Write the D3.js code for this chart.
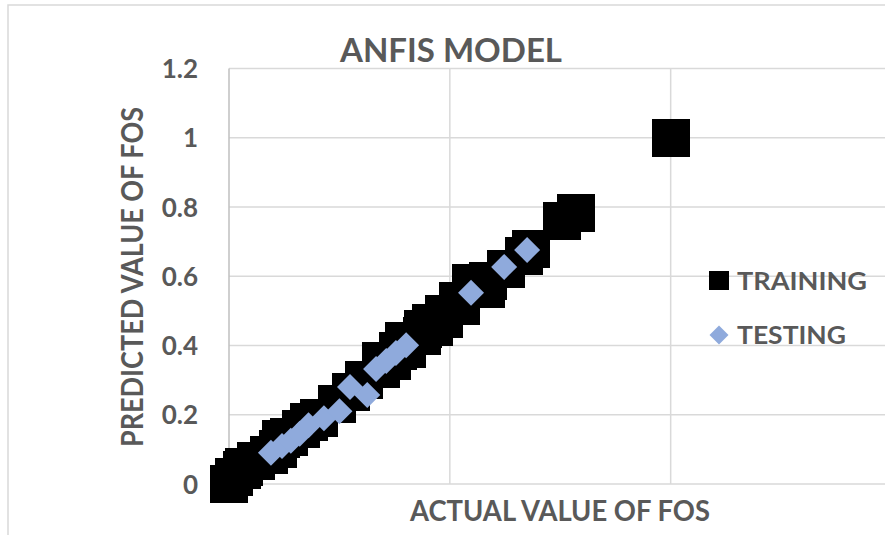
<!DOCTYPE html>
<html>
<head>
<meta charset="utf-8">
<script src="https://cdn.jsdelivr.net/npm/d3@7"></script>
<style>
  html, body { margin: 0; padding: 0; background: #fff; }
  svg { display: block; }
  text { font-family: Lato, "Open Sans", sans-serif; font-weight: 700; fill: #595959; }
</style>
</head>
<body>
<svg id="chart" width="885" height="535"></svg>
<script>
// Training set: actual FOS vs ANFIS-predicted FOS
const trainActual = [0.000, 0.012, 0.030, 0.035, 0.060, 0.090, 0.110, 0.118, 0.136, 0.163, 0.181, 0.204,
  0.245, 0.276, 0.306, 0.344, 0.344, 0.369, 0.383, 0.403, 0.396, 0.437, 0.440, 0.464, 0.458, 0.487,
  0.487, 0.525, 0.519, 0.548, 0.582, 0.587, 0.627, 0.668, 0.684, 0.755, 0.786, 1.000];
const trainPredicted = [0.000, 0.020, 0.040, 0.050, 0.065, 0.085, 0.100, 0.130, 0.136, 0.159, 0.179, 0.191,
  0.231, 0.266, 0.300, 0.332, 0.355, 0.355, 0.384, 0.390, 0.413, 0.427, 0.448, 0.453, 0.465, 0.477,
  0.491, 0.514, 0.529, 0.580, 0.563, 0.586, 0.621, 0.658, 0.679, 0.760, 0.784, 1.000];

// Testing set
const testActual = [0.095, 0.120, 0.140, 0.160, 0.180, 0.215, 0.250, 0.274, 0.313, 0.333, 0.356, 0.378,
  0.401, 0.548, 0.623, 0.675];
const testPredicted = [0.090, 0.110, 0.125, 0.145, 0.170, 0.190, 0.210, 0.280, 0.257, 0.332, 0.355, 0.378,
  0.401, 0.552, 0.627, 0.676];

const yTicks = [0, 0.2, 0.4, 0.6, 0.8, 1, 1.2];
const yTickLabels = ["0", "0.2", "0.4", "0.6", "0.8", "1", "1.2"];
const xGrid = [0, 0.5, 1, 1.5];

const titleText = "ANFIS MODEL";
const xTitle = "ACTUAL VALUE OF FOS";
const yTitle = "PREDICTED VALUE OF FOS";
const seriesNames = ["TRAINING", "TESTING"];

const svg = d3.select("#chart");

// chart frame
svg.append("rect")
  .attr("x", 8).attr("y", 5).attr("width", 900).attr("height", 560)
  .attr("fill", "none").attr("stroke", "#d9d9d9").attr("stroke-width", 1.5);

const x = d3.scaleLinear().domain([0, 1.5]).range([229, 891.5]);
const y = d3.scaleLinear().domain([0, 1.2]).range([484, 68.5]);

// horizontal gridlines
svg.append("g").selectAll("line").data(yTicks).join("line")
  .attr("x1", x(0)).attr("x2", 885)
  .attr("y1", d => y(d)).attr("y2", d => y(d))
  .attr("stroke", "#d9d9d9").attr("stroke-width", 1.5);

// vertical gridlines
svg.append("g").selectAll("line").data(xGrid.slice(1)).join("line")
  .attr("x1", d => x(d)).attr("x2", d => x(d))
  .attr("y1", y(1.2)).attr("y2", y(0))
  .attr("stroke", "#d9d9d9").attr("stroke-width", 1.5);

// value axis line
svg.append("line")
  .attr("x1", x(0)).attr("x2", x(0)).attr("y1", y(1.2)).attr("y2", y(0))
  .attr("stroke", "#bfbfbf").attr("stroke-width", 1.5);

// y tick labels
svg.append("g").selectAll("text").data(yTicks).join("text")
  .attr("x", 198).attr("y", d => y(d) + 9.5)
  .attr("text-anchor", "end").attr("font-size", 26)
  .text((d, i) => yTickLabels[i]);

// training squares
const sq = 38;
svg.append("g").attr("shape-rendering", "crispEdges")
  .selectAll("rect").data(trainActual).join("rect")
  .attr("x", (d, i) => x(d) - sq / 2)
  .attr("y", (d, i) => y(trainPredicted[i]) - sq / 2)
  .attr("width", sq).attr("height", sq)
  .attr("fill", "#000");

// testing diamonds
const dr = 13;
const diamond = (cx, cy, r) => `M${cx},${cy - r}L${cx + r},${cy}L${cx},${cy + r}L${cx - r},${cy}Z`;
svg.append("g").selectAll("path").data(testActual).join("path")
  .attr("d", (d, i) => diamond(x(d), y(testPredicted[i]), dr))
  .attr("fill", "#8faadc");

// title
svg.append("text")
  .attr("x", 451).attr("y", 61.5).attr("text-anchor", "middle")
  .attr("font-size", 32).attr("textLength", 222).attr("lengthAdjust", "spacingAndGlyphs")
  .text(titleText);

// axis titles
svg.append("text")
  .attr("x", 560).attr("y", 521).attr("text-anchor", "middle")
  .attr("font-size", 29).attr("textLength", 300).attr("lengthAdjust", "spacingAndGlyphs")
  .text(xTitle);

svg.append("text")
  .attr("transform", "translate(143,277) rotate(-90)")
  .attr("text-anchor", "middle")
  .attr("font-size", 30).attr("textLength", 340).attr("lengthAdjust", "spacingAndGlyphs")
  .text(yTitle);

// legend
const legend = svg.append("g");
legend.append("rect").attr("x", 709).attr("y", 271).attr("width", 20).attr("height", 19)
  .attr("fill", "#000").attr("shape-rendering", "crispEdges");
legend.append("text").attr("x", 737).attr("y", 290).attr("font-size", 25)
  .attr("textLength", 130).attr("lengthAdjust", "spacingAndGlyphs").text(seriesNames[0]);
legend.append("path").attr("d", diamond(719, 335, 9.5)).attr("fill", "#8faadc");
legend.append("text").attr("x", 737).attr("y", 344).attr("font-size", 25)
  .attr("textLength", 109).attr("lengthAdjust", "spacingAndGlyphs").text(seriesNames[1]);
</script>
</body>
</html>
